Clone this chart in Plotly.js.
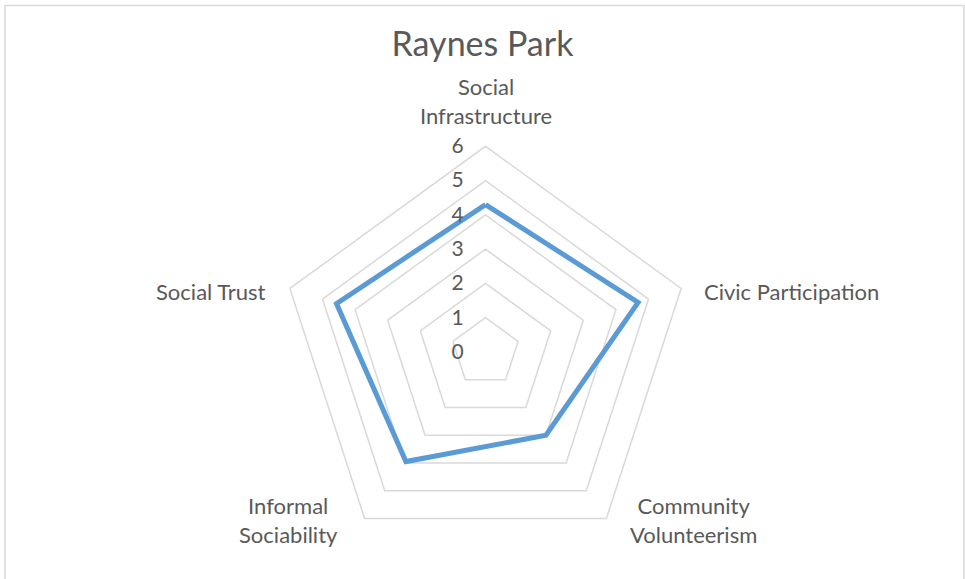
<!DOCTYPE html>
<html>
<head>
<meta charset="utf-8">
<script src="https://cdn.plot.ly/plotly-3.0.1.min.js"></script>
<style>html,body{margin:0;padding:0;background:#fff;}#chart{width:965px;height:579px;}</style>
</head>
<body>
<div id="chart"></div>
<script>
const categories = ["Social<br>Infrastructure", "Civic Participation", "Community<br>Volunteerism", "Informal<br>Sociability", "Social Trust"];
const values = [4.3, 4.68, 3.0, 3.95, 4.57];
const radialTicks = [0, 1, 2, 3, 4, 5, 6];
const chartTitle = "Raynes Park";

const FONT = "Lato, 'Open Sans', sans-serif";
const W = 965, H = 579;

// label anchor placement (pixels) for each category, in category order
const labelPlacement = [
  {x: 485.5, y: 131, xanchor: "center", yanchor: "bottom"},
  {x: 702, y: 291, xanchor: "left", yanchor: "middle"},
  {x: 693, y: 490, xanchor: "center", yanchor: "top"},
  {x: 288, y: 490, xanchor: "center", yanchor: "top"},
  {x: 268, y: 291, xanchor: "right", yanchor: "middle"}
];

const trace = {
  type: "scatterpolar",
  r: values.concat([values[0]]),
  theta: categories.concat([categories[0]]),
  mode: "lines",
  line: {color: "#5B9BD5", width: 5},
  hoverinfo: "skip",
  showlegend: false
};

const annotations = categories.map((c, i) => ({
  text: c, xref: "paper", yref: "paper",
  x: labelPlacement[i].x / W, y: 1 - labelPlacement[i].y / H,
  xanchor: labelPlacement[i].xanchor, yanchor: labelPlacement[i].yanchor,
  showarrow: false, align: "center",
  font: {family: FONT, size: 22, color: "#595959"}
}));

const layout = {
  width: W, height: H,
  margin: {l: 0, r: 0, t: 0, b: 0},
  paper_bgcolor: "#ffffff",
  title: {text: chartTitle, x: 0.5, xanchor: "center", y: 1 - 44/H, yanchor: "middle",
          font: {family: FONT, size: 34, color: "#595959"}},
  polar: {
    domain: {x: [279.8/W, 691.2/W], y: [21.3/H, 432.7/H]},
    gridshape: "linear",
    bgcolor: "rgba(0,0,0,0)",
    radialaxis: {
      range: [0, 6], tickvals: radialTicks, ticktext: radialTicks.map(String),
      angle: 90, tickangle: 90, side: "counterclockwise",
      showline: false, ticks: "outside", ticklen: 14, tickcolor: "rgba(0,0,0,0)",
      gridcolor: "#d9d9d9", gridwidth: 1.5,
      tickfont: {family: FONT, size: 21, color: "#595959"}
    },
    angularaxis: {
      rotation: 90, direction: "clockwise",
      showline: true, linecolor: "#d9d9d9", linewidth: 1.5,
      showgrid: false, ticks: "", showticklabels: false
    }
  },
  annotations: annotations,
  shapes: [{type: "rect", xref: "paper", yref: "paper", x0: 5/W, x1: 964/W, y0: -0.02, y1: 1 - 5.5/H,
            line: {color: "#d9d9d9", width: 1.5}, fillcolor: "rgba(0,0,0,0)"}]
};

Plotly.newPlot("chart", [trace], layout, {displayModeBar: false, staticPlot: true});
</script>
</body>
</html>
